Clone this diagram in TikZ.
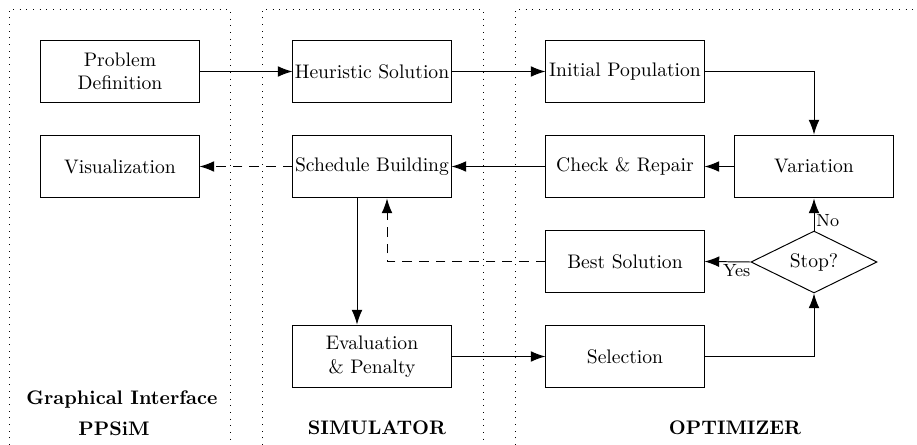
\documentclass[tikz,border=0pt]{standalone}
\usetikzlibrary{arrows.meta,shapes.geometric}
\begin{document}
\begin{tikzpicture}[x=0.51pt,y=-0.51pt,
  box/.style={draw,rectangle,minimum width=80.6pt,minimum height=32.1pt,inner xsep=0.5pt,inner ysep=1pt,align=center,line width=0.5pt},
  dec/.style={draw,diamond,aspect=2,minimum width=64.3pt,minimum height=31.6pt,inner sep=0pt,line width=0.5pt},
  arr/.style={-{Latex[length=7.5pt,width=5.5pt]},line width=0.5pt},
  dsh/.style={arr,dash pattern=on 5pt off 3.5pt},
  region/.style={line width=0.5pt,dash pattern=on 0.5pt off 2.9pt},
  lab/.style={font=\small,inner sep=1pt},
  title/.style={font=\bfseries,inner sep=0pt}]
\useasboundingbox (0,0) rectangle (917,445);
% regions
\draw[region] (9,445) -- (9,9) -- (230,9) -- (230,445);
\draw[region] (262,445) -- (262,9) -- (483,9) -- (483,445);
\draw[region] (515,445) -- (515,9) -- (917,9);
% nodes
\node[box] (pd) at (120,71.5) {Problem\\Definition};
\node[box] (vis) at (120,166.5) {Visualization};
\node[box] (hs) at (372,71.5) {Heuristic Solution};
\node[box] (sb) at (372,166.5) {Schedule Building};
\node[box] (ep) at (372,356.5) {Evaluation\\\& Penalty};
\node[box] (ip) at (625,71.5) {Initial Population};
\node[box] (cr) at (625,166.5) {Check \& Repair};
\node[box] (bs) at (625,261.5) {Best Solution};
\node[box] (sel) at (625,356.5) {Selection};
\node[box] (var) at (814,166.5) {Variation};
\node[dec] (stop) at (814,262) {Stop?};
% titles
\node[title] (t1) at (122,400) {Graphical Interface};
\node[title] (t2) at (114,429) {PPSiM};
\node[title] (t3) at (377,428) {SIMULATOR};
\node[title] (t4) at (735,428) {OPTIMIZER};
% connectors
\draw[arr] (pd.east) -- (hs.west);
\draw[arr] (hs.east) -- (ip.west);
\draw[arr] (ip.east) -| (var.north);
\draw[arr] (var.west) -- (cr.east);
\draw[arr] (cr.west) -- (sb.east);
\draw[dsh] (sb.west) -- (vis.east);
\draw[arr] ([xshift=-7.65pt]sb.south) -- ([xshift=-7.65pt]ep.north);
\draw[arr] (ep.east) -- (sel.west);
\draw[arr] (sel.east) -| (stop.south);
\draw[arr] (stop.north) -- node[lab,pos=0.3,anchor=west]{No} (var.south);
\draw[arr] (stop.west) -- node[lab,pos=0.3,below]{Yes} (bs.east);
\draw[dsh] (bs.west) -| ([xshift=7.65pt]sb.south);
\end{tikzpicture}
\end{document}
